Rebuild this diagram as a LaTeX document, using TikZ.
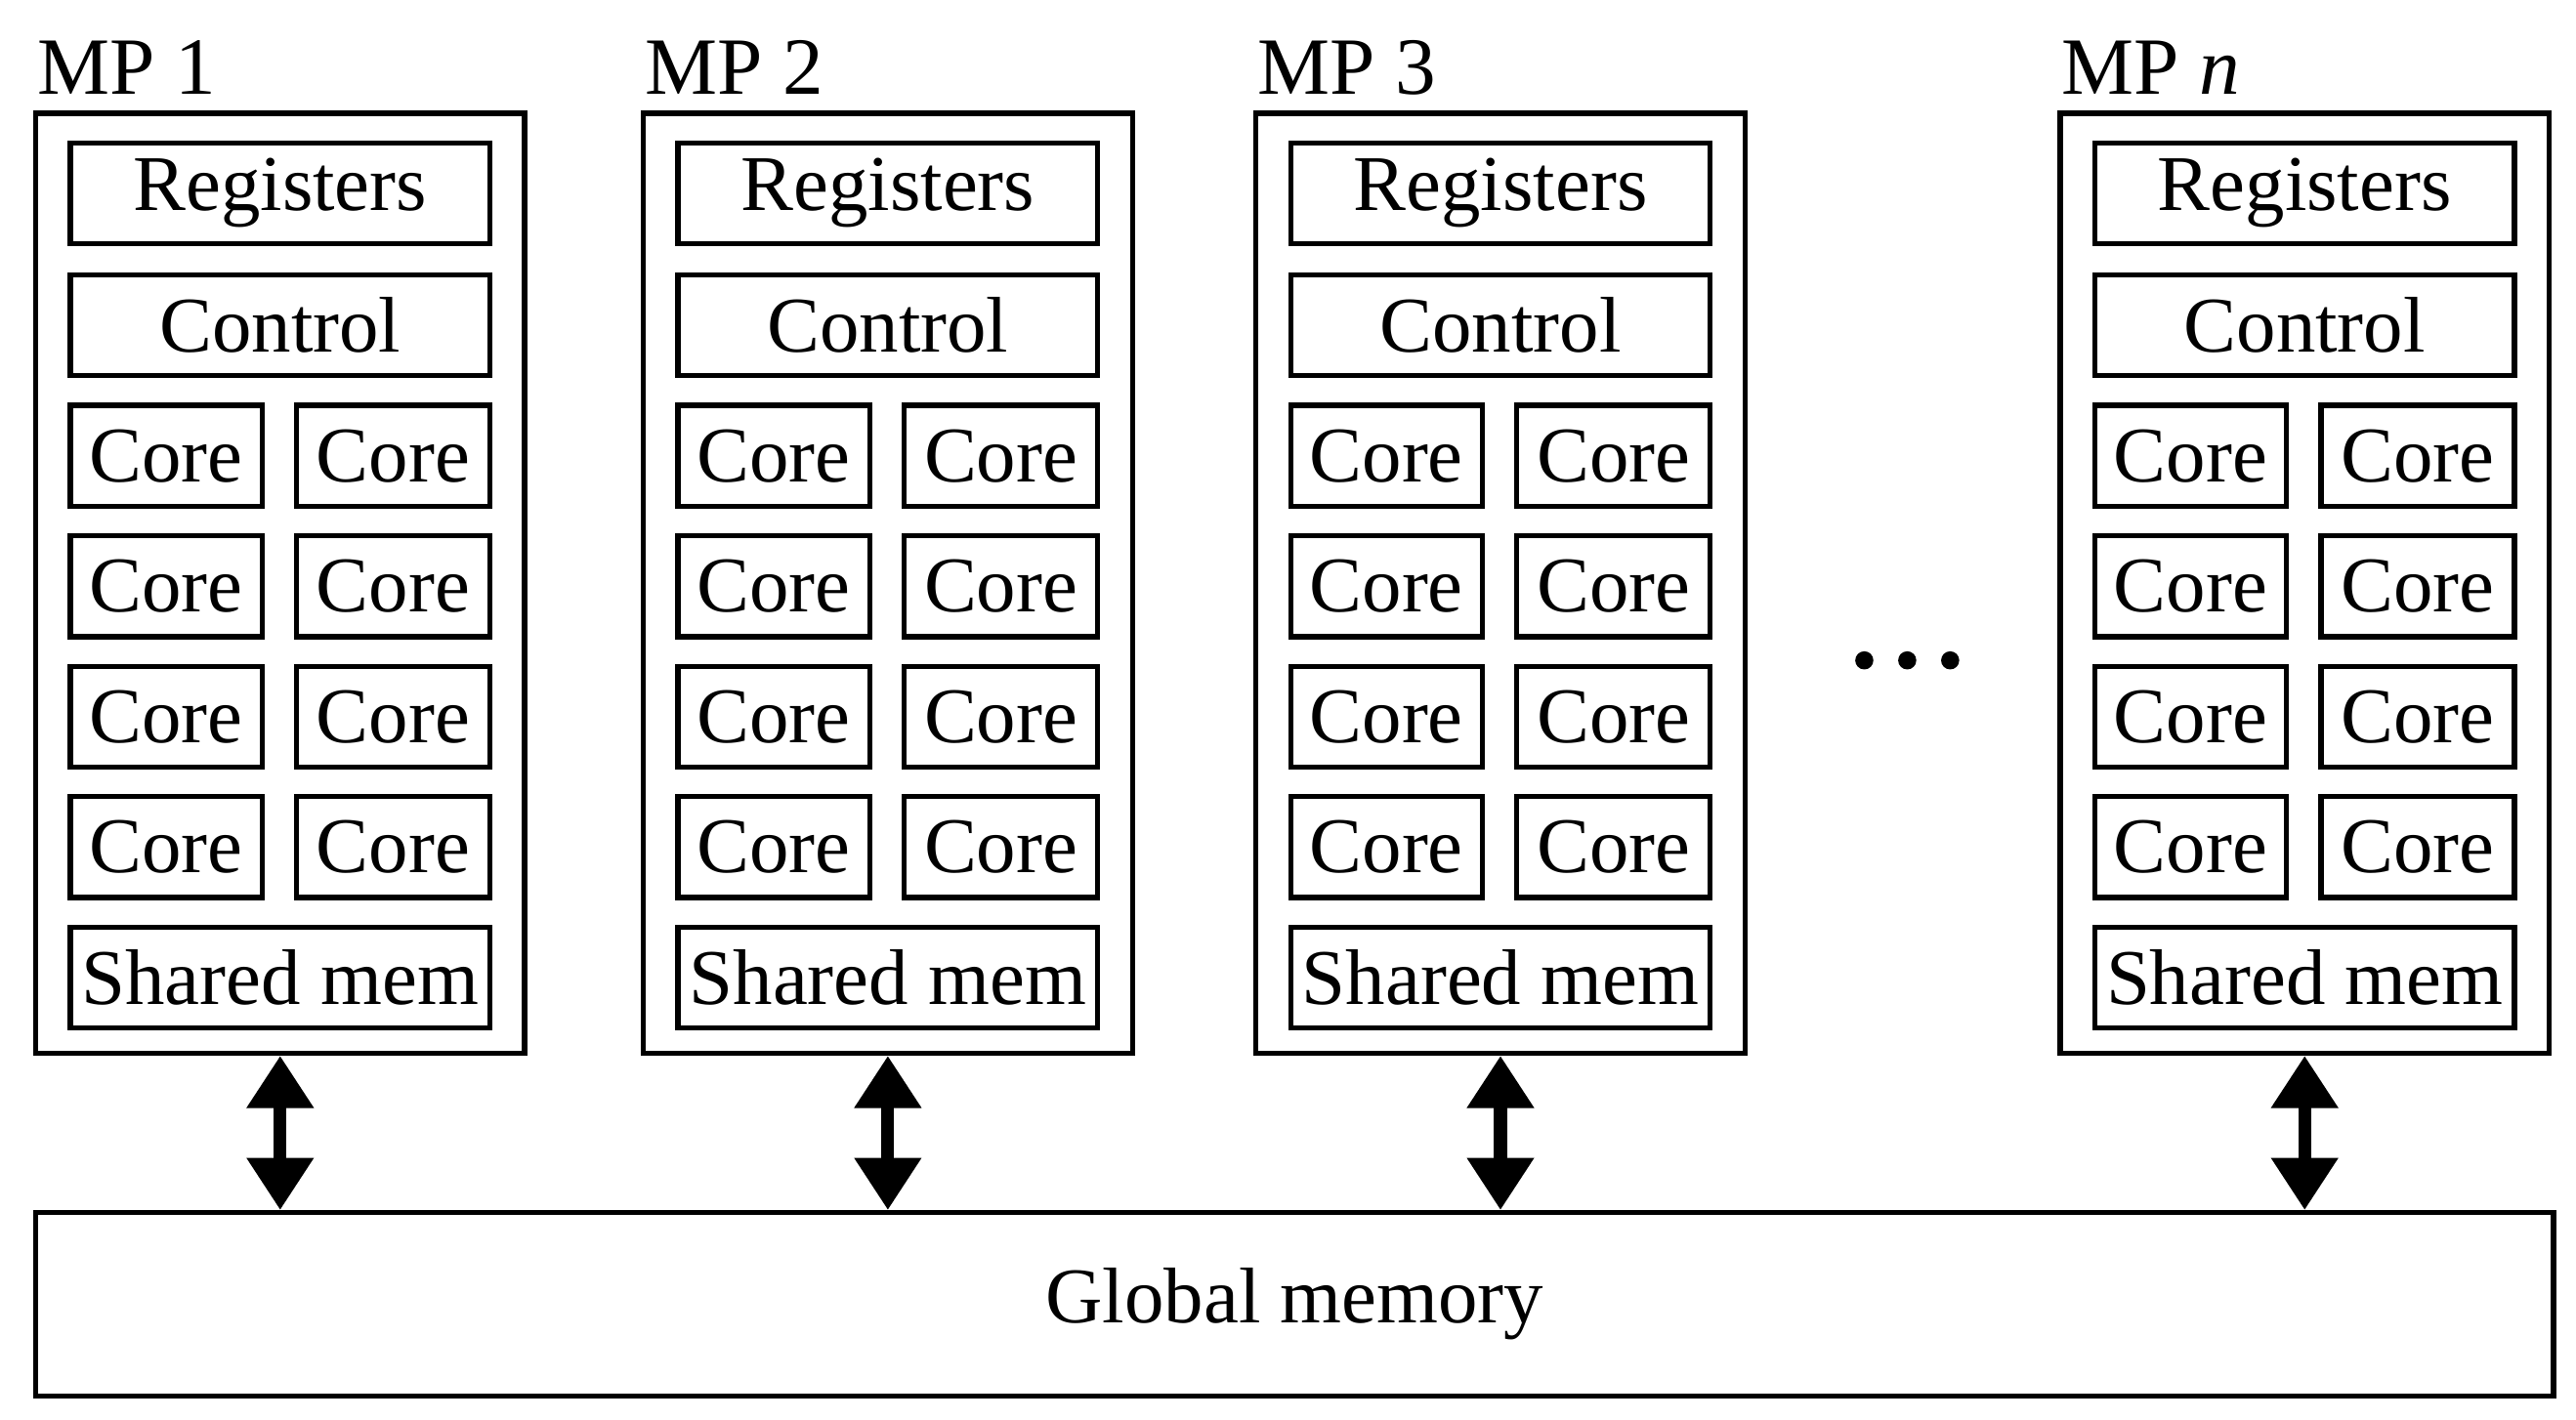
\documentclass[tikz,border=0pt]{standalone}
\usepackage{fontspec}
\setmainfont{Liberation Serif}
\usetikzlibrary{arrows.meta}
\begin{document}
\begin{tikzpicture}[x=0.01cm,y=-0.01cm,
  box/.style={draw,line width=0.9pt,inner sep=0pt,anchor=north west},
  lbl/.style={font=\fontsize{13.6}{15}\selectfont},
  bus/.style={line width=2.2pt,{Triangle[length=9pt,width=11pt]}-{Triangle[length=9pt,width=11pt]}}]
\useasboundingbox (0,0) rectangle (1560,860);
\foreach \x/\t/\n in {20/MP 1/1, 388/MP 2/2, 759/MP 3/3, 1246/MP \textit{n}/4}{
  \node[box,minimum width=2.96cm,minimum height=5.69cm] (mp\n) at (\x,67) {};
  \node[lbl,anchor=south west,inner sep=0pt] (t\n) at (\x+2,58) {\fontsize{14}{16}\selectfont\t};
  \node[box,lbl,minimum width=2.54cm,minimum height=0.61cm] (r\n) at (\x+21,85) {Registers};
  \node[box,lbl,minimum width=2.54cm,minimum height=0.61cm] (c\n) at (\x+21,165) {Control};
  \foreach \y in {244,323,402,481}{
    \node[box,lbl,minimum width=1.16cm,minimum height=0.61cm] at (\x+21,\y) {Core};
    \node[box,lbl,minimum width=1.17cm,minimum height=0.61cm] at (\x+158,\y) {Core};
  }
  \node[box,lbl,minimum width=2.54cm,minimum height=0.61cm] (s\n) at (\x+21,560) {Shared mem};
}
\node[box,lbl,minimum width=15.24cm,minimum height=1.11cm] (gm) at (20,733) {Global memory};
\foreach \n in {1,2,3,4}
  \draw[bus] (mp\n.south) -- (mp\n.south |- gm.north);
\foreach \d in {-26,0,26}
  \fill (1155+\d,400) circle (5.5);
\end{tikzpicture}
\end{document}
